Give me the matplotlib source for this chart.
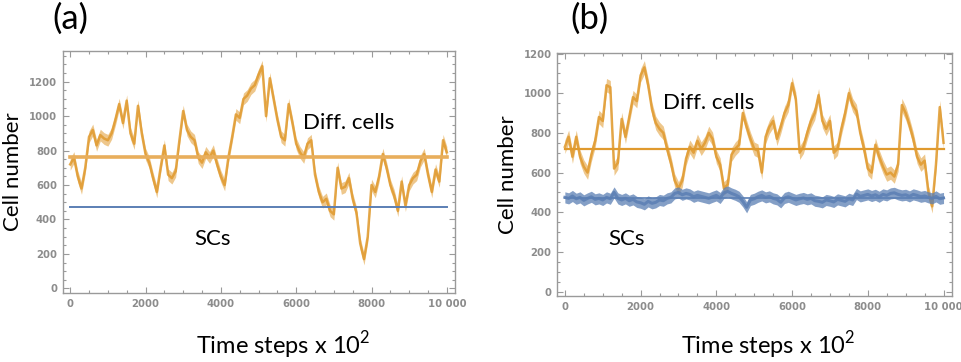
import numpy as np
import matplotlib
matplotlib.use("Agg")
import matplotlib.pyplot as plt
from matplotlib.ticker import MultipleLocator, FuncFormatter

plt.rcParams["mathtext.fontset"] = "custom"
plt.rcParams["mathtext.rm"] = "Lato"

# ---- data -------------------------------------------------------------
time_steps = list(range(0, 10001, 100))

# (a) differentiated cells, sampled every 100 steps
diff_a = [720, 760, 650, 580, 700, 880, 920, 830, 890, 870,
          860, 900, 980, 1070, 960, 1090, 900, 840, 1060, 900,
          780, 730, 640, 560, 700, 830, 660, 640, 680, 860,
          1030, 920, 880, 860, 760, 730, 790, 760, 800, 720,
          650, 600, 760, 880, 1010, 990, 1100, 1120, 1160, 1180,
          1240, 1290, 1000, 1220, 1100, 980, 880, 860, 1070, 960,
          840, 790, 760, 840, 860, 660, 560, 500, 520, 450,
          430, 700, 580, 590, 640, 520, 440, 260, 170, 300,
          600, 560, 650, 780, 700, 600, 540, 450, 620, 480,
          600, 640, 660, 740, 780, 660, 560, 690, 620, 860,
          790]
mean_diff_a = 765
mean_sc_a = 470

# (b) differentiated cells and stem cells, sampled every 100 steps
diff_b = [730, 780, 680, 780, 680, 630, 600, 690, 760, 880,
          860, 1040, 1030, 620, 650, 870, 780, 880, 980, 960,
          1090, 1130, 1040, 920, 850, 820, 800, 720, 650, 560,
          520, 560, 670, 730, 700, 760, 720, 750, 800, 770,
          680, 640, 520, 540, 690, 720, 740, 900, 830, 770,
          720, 710, 600, 780, 830, 860, 770, 830, 900, 940,
          1050, 970, 700, 730, 800, 860, 900, 990, 860, 820,
          860, 700, 720, 820, 900, 1000, 940, 910, 800, 720,
          620, 600, 740, 680, 630, 590, 600, 580, 640, 940,
          900, 840, 770, 680, 640, 660, 500, 430, 640, 930,
          750]
sc_b = [475, 470, 482, 468, 475, 460, 470, 478, 465, 470,
        462, 475, 468, 500, 470, 462, 470, 458, 465, 452,
        448, 440, 455, 445, 450, 462, 458, 470, 475, 495,
        500, 488, 495, 490, 478, 485, 480, 475, 470, 478,
        485, 472, 498, 505, 495, 488, 478, 455, 425, 462,
        468, 478, 485, 475, 480, 470, 465, 450, 472, 478,
        470, 462, 468, 472, 465, 470, 458, 455, 450, 462,
        458, 452, 465, 460, 455, 468, 462, 492, 480, 485,
        490, 482, 488, 478, 490, 485, 495, 498, 490, 485,
        488, 480, 490, 485, 478, 482, 475, 470, 480, 468,
        472]
mean_diff_b = 720
mean_sc_b = 470

x_ticks = [0, 2000, 4000, 6000, 8000, 10000]

# ---- style ------------------------------------------------------------
ORANGE = "#E09A2E"
ORANGE_LINE = "#E8AE5C"
BLUE = "#5B7FB4"
FRAME = "#9a9a9a"
TICKTXT = "#8c8c8c"
LABEL_FONT = ["Lato", "DejaVu Sans"]
XLABEL = "Time steps x 10$^{2}$"

W, H = 961, 362
fig = plt.figure(figsize=(W / 100, H / 100), dpi=100)


def fmt_x(v, pos):
    v = int(round(v))
    return "10 000" if v == 10000 else str(v)


def style_axes(ax, ylim):
    ax.set_xlim(-200, 10215)
    ax.set_ylim(*ylim)
    ax.set_xticks(x_ticks)
    ax.xaxis.set_minor_locator(MultipleLocator(500))
    ax.yaxis.set_major_locator(MultipleLocator(200))
    ax.yaxis.set_minor_locator(MultipleLocator(50))
    ax.xaxis.set_major_formatter(FuncFormatter(fmt_x))
    for s in ax.spines.values():
        s.set_color(FRAME)
        s.set_linewidth(1.0)
    ax.tick_params(which="both", direction="in", top=True, right=True,
                   color=FRAME, width=0.8)
    ax.tick_params(which="major", length=4.5, labelsize=7.3,
                   labelcolor=TICKTXT, pad=4)
    ax.tick_params(which="minor", length=2.5)
    for lab in ax.get_xticklabels() + ax.get_yticklabels():
        lab.set_fontweight("bold")


def draw_noisy(ax, t, v, color, halfwidth, lw, z, band_alpha):
    v = np.asarray(v, dtype=float)
    ax.fill_between(t, v - halfwidth, v + halfwidth, color=color,
                    alpha=band_alpha, linewidth=0, zorder=z)
    ax.plot(t, v, color=color, lw=lw, alpha=0.85, zorder=z + 0.1)


# ---- panel (a) --------------------------------------------------------
ax1 = fig.add_axes([0.0652, 0.1906, 0.4082, 0.6693])
draw_noisy(ax1, time_steps, diff_a, ORANGE, 34, 1.8, 2, 0.55)
ax1.axhline(mean_diff_a, xmin=0.019, xmax=0.981, color=ORANGE_LINE,
            lw=2.6, zorder=3)
ax1.axhline(mean_sc_a, xmin=0.019, xmax=0.981, color=BLUE, lw=1.4,
            zorder=3)
style_axes(ax1, (-27, 1380))
ax1.text(0.73, 0.70, "Diff. cells", transform=ax1.transAxes,
         fontsize=16, family=LABEL_FONT, ha="center", va="center")
ax1.text(0.383, 0.224, "SCs", transform=ax1.transAxes,
         fontsize=16, family=LABEL_FONT, ha="center", va="center")
ax1.set_ylabel("Cell number", fontsize=16, family=LABEL_FONT, labelpad=4)
fig.text(283 / W, 1 - 345 / H, XLABEL, fontsize=17, family=LABEL_FONT,
         ha="center", va="center")
fig.text(70 / W, 1 - 19 / H, "(a)", fontsize=25, family=LABEL_FONT,
         ha="center", va="center")

# ---- panel (b) --------------------------------------------------------
ax2 = fig.add_axes([0.5799, 0.1823, 0.4104, 0.6721])
draw_noisy(ax2, time_steps, diff_b, ORANGE, 34, 1.8, 2, 0.55)
ax2.axhline(mean_diff_b, xmin=0.019, xmax=0.981, color=ORANGE,
            lw=1.6, zorder=3)
ax2.axhline(mean_sc_b, xmin=0.019, xmax=0.981, color=BLUE, lw=1.2,
            zorder=1)
draw_noisy(ax2, time_steps, sc_b, BLUE, 28, 2.2, 4, 0.75)
style_axes(ax2, (-22, 1204))
ax2.text(0.385, 0.795, "Diff. cells", transform=ax2.transAxes,
         fontsize=16, family=LABEL_FONT, ha="center", va="center")
ax2.text(0.175, 0.235, "SCs", transform=ax2.transAxes,
         fontsize=16, family=LABEL_FONT, ha="center", va="center")
ax2.set_ylabel("Cell number", fontsize=16, family=LABEL_FONT, labelpad=4)
fig.text(768 / W, 1 - 345 / H, XLABEL, fontsize=17, family=LABEL_FONT,
         ha="center", va="center")
fig.text(590 / W, 1 - 19 / H, "(b)", fontsize=25, family=LABEL_FONT,
         ha="center", va="center")

fig.savefig("out.png", dpi=100)
